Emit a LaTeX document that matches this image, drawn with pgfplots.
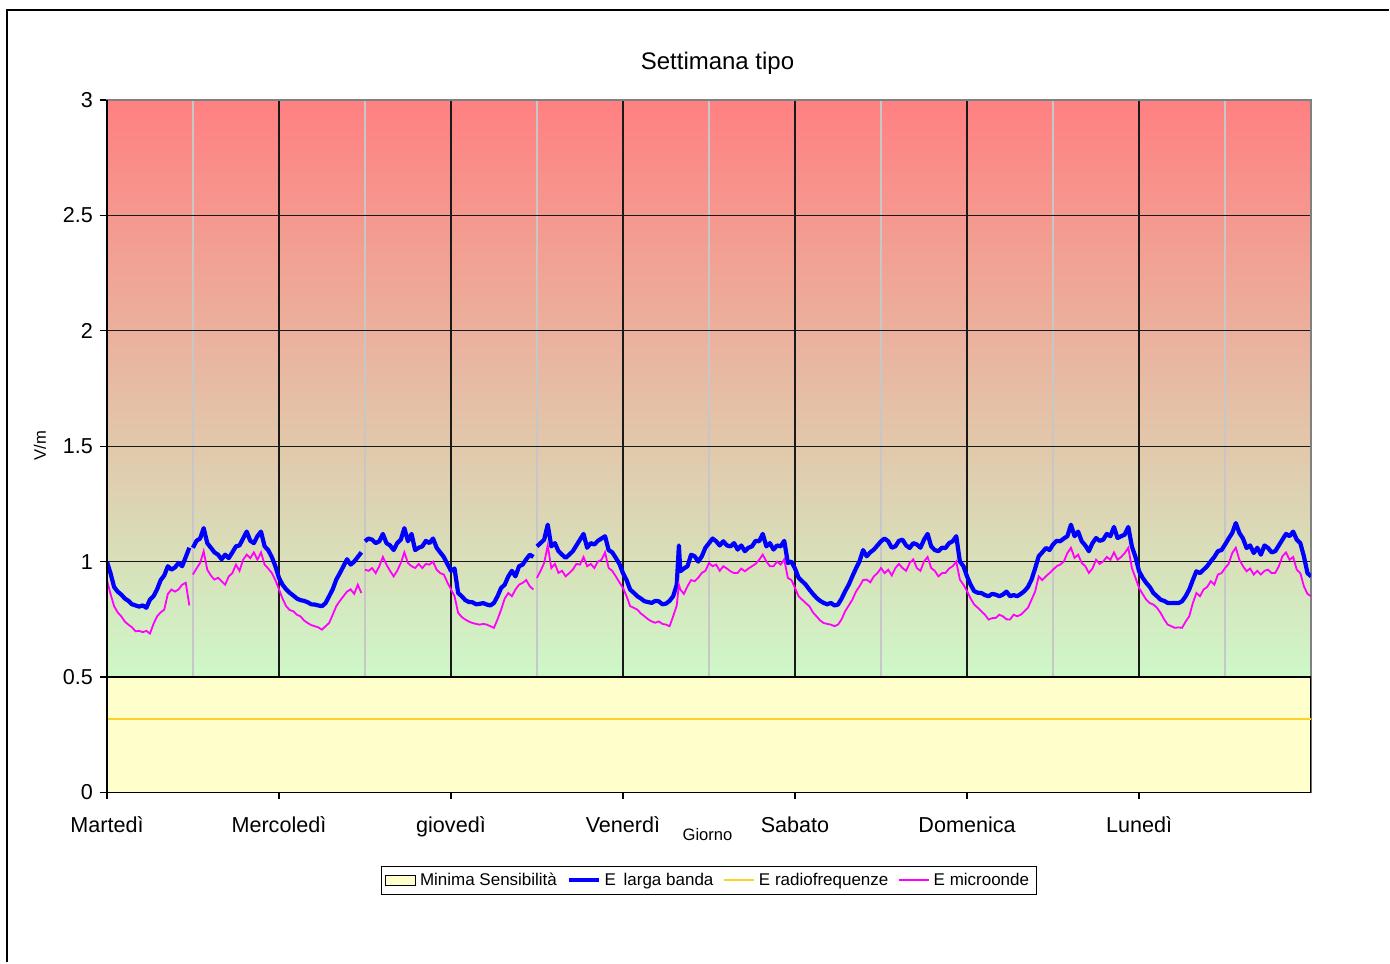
\documentclass[border=0pt]{standalone}
\usepackage{pgfplots}
\pgfplotsset{compat=1.18}
\usepackage{pgfplotstable}
\usepackage{fontspec}
\setmainfont{Liberation Sans}
\definecolor{topc}{RGB}{255,128,128}
\definecolor{botc}{RGB}{206,248,200}
\definecolor{yell}{RGB}{255,255,204}
\definecolor{gold}{RGB}{252,210,40}
\definecolor{mag}{RGB}{255,0,255}
\definecolor{blu}{RGB}{0,0,255}
\pgfdeclareverticalshading{bgsh}{100bp}{color(0bp)=(botc); color(33.333bp)=(botc); color(75bp)=(topc); color(100bp)=(topc)}
\pgfplotstableread{
h b m
0 1.00 0.92
0.5 0.95 0.86
1 0.89 0.807
1.5 0.87 0.78
2 0.857 0.763
2.5 0.84 0.74
3 0.83 0.727
3.5 0.815 0.715
4 0.81 0.698
4.5 0.805 0.70
5 0.81 0.694
5.5 0.80 0.70
6 0.835 0.688
6.5 0.85 0.73
7 0.88 0.763
7.5 0.92 0.78
8 0.94 0.792
8.5 0.98 0.86
9 0.965 0.879
9.5 0.975 0.87
10 0.994 0.88
10.5 0.98 0.90
11 1.02 0.908
11.5 1.06 0.81
11.8 nan nan
12 1.06 0.944
12.5 1.09 0.97
13 1.10 0.994
13.5 1.145 1.045
14 1.08 0.965
14.5 1.06 0.94
15 1.04 0.922
15.5 1.03 0.93
16 1.01 0.915
16.5 1.03 0.90
17 1.015 0.936
17.5 1.04 0.95
18 1.066 0.987
18.5 1.07 0.96
19 1.10 1.008
19.5 1.13 1.03
20 1.09 1.015
20.5 1.08 1.04
21 1.11 1.008
21.5 1.13 1.04
22 1.066 0.987
22.5 1.05 0.97
23 1.02 0.951
23.5 0.98 0.92
24 0.93 0.88
24.5 0.90 0.84
25 0.88 0.807
25.5 0.865 0.79
26 0.853 0.785
26.5 0.84 0.77
27 0.833 0.763
27.5 0.83 0.745
28 0.824 0.734
28.5 0.815 0.725
29 0.814 0.72
29.5 0.81 0.715
30 0.807 0.705
30.5 0.82 0.72
31 0.85 0.734
31.5 0.88 0.77
32 0.922 0.807
32.5 0.95 0.83
33 0.98 0.85
33.5 1.01 0.87
34 0.987 0.88
34.5 1.00 0.86
35 1.02 0.90
35.5 1.04 0.864
35.8 nan nan
36 1.088 0.965
36.5 1.10 0.96
37 1.095 0.972
37.5 1.08 0.95
38 1.088 0.98
38.5 1.12 1.02
39 1.08 0.987
39.5 1.07 0.96
40 1.05 0.936
40.5 1.08 0.96
41 1.095 0.994
41.5 1.145 1.04
42 1.088 0.994
42.5 1.12 0.98
43 1.05 0.972
43.5 1.06 0.99
44 1.066 0.972
44.5 1.09 0.99
45 1.08 0.987
45.5 1.10 1.00
46 1.06 0.965
46.5 1.04 0.95
47 1.02 0.944
47.5 0.99 0.91
48 0.96 0.88
48.5 0.97 0.85
49 0.864 0.778
49.5 0.85 0.76
50 0.833 0.749
50.5 0.825 0.74
51 0.824 0.734
51.5 0.815 0.73
52 0.817 0.727
52.5 0.82 0.73
53 0.814 0.727
53.5 0.81 0.72
54 0.821 0.713
54.5 0.85 0.75
55 0.886 0.792
55.5 0.90 0.84
56 0.936 0.864
56.5 0.96 0.85
57 0.936 0.879
57.5 0.98 0.90
58 0.987 0.908
58.5 1.01 0.92
59 1.03 0.893
59.5 1.02 0.879
59.8 nan nan
60 1.066 0.929
60.5 1.08 0.96
61 1.095 0.994
61.5 1.16 1.07
62 1.066 0.972
62.5 1.08 0.99
63 1.045 0.951
63.5 1.03 0.96
64 1.016 0.936
64.5 1.03 0.95
65 1.045 0.965
65.5 1.07 0.99
66 1.095 0.987
66.5 1.12 1.02
67 1.06 0.98
67.5 1.08 0.99
68 1.074 0.972
68.5 1.09 1.00
69 1.10 1.008
69.5 1.11 1.04
70 1.05 0.972
70.5 1.04 0.96
71 1.016 0.936
71.5 0.99 0.91
72 0.95 0.886
72.5 0.92 0.85
73 0.879 0.807
73.5 0.865 0.80
74 0.85 0.792
74.5 0.84 0.775
75 0.828 0.763
75.5 0.825 0.75
76 0.821 0.741
76.5 0.83 0.735
77 0.828 0.741
77.5 0.815 0.73
78 0.818 0.727
78.5 0.83 0.72
79 0.85 0.763
79.5 0.90 0.81
79.8 1.07 0.90
80 0.958 0.879
80.5 0.97 0.86
81 0.98 0.893
81.5 1.03 0.92
82 1.023 0.915
82.5 1.00 0.93
83 1.023 0.951
83.5 1.06 0.96
84 1.08 0.994
84.5 1.10 0.98
85 1.088 0.987
85.5 1.07 0.96
86 1.088 0.98
86.5 1.07 0.97
87 1.066 0.958
87.5 1.08 0.95
88 1.052 0.951
88.5 1.07 0.97
89 1.045 0.958
89.5 1.06 0.97
90 1.066 0.98
90.5 1.09 0.99
91 1.088 1.008
91.5 1.12 1.03
92 1.066 1.001
92.5 1.08 0.98
93 1.052 0.98
93.5 1.07 1.00
94 1.066 0.987
94.5 1.09 1.01
95 0.994 0.929
95.5 1.00 0.92
96 0.97 0.886
96.5 0.93 0.85
97 0.915 0.835
97.5 0.90 0.82
98 0.879 0.807
98.5 0.86 0.78
99 0.843 0.763
99.5 0.83 0.745
100 0.821 0.734
100.5 0.815 0.73
101 0.821 0.727
101.5 0.81 0.72
102 0.814 0.727
102.5 0.84 0.75
103 0.872 0.785
103.5 0.90 0.81
104 0.936 0.835
104.5 0.97 0.87
105 1.001 0.893
105.5 1.05 0.92
106 1.023 0.922
106.5 1.04 0.91
107 1.052 0.936
107.5 1.07 0.95
108 1.088 0.972
108.5 1.10 0.95
109 1.088 0.965
109.5 1.06 0.94
110 1.066 0.972
110.5 1.09 0.99
111 1.095 0.972
111.5 1.07 0.96
112 1.059 0.994
112.5 1.08 1.01
113 1.074 0.972
113.5 1.06 0.96
114 1.095 1.001
114.5 1.12 1.02
115 1.066 0.972
115.5 1.05 0.96
116 1.045 0.936
116.5 1.06 0.95
117 1.059 0.951
117.5 1.08 0.97
118 1.088 0.98
118.5 1.11 1.00
119 1.001 0.922
119.5 0.98 0.90
120 0.936 0.872
120.5 0.90 0.84
121 0.872 0.814
121.5 0.865 0.80
122 0.864 0.785
122.5 0.855 0.77
123 0.85 0.749
123.5 0.86 0.755
124 0.857 0.756
124.5 0.85 0.77
125 0.857 0.763
125.5 0.87 0.75
126 0.85 0.749
126.5 0.855 0.77
127 0.85 0.763
127.5 0.86 0.77
128 0.872 0.785
128.5 0.89 0.80
129 0.922 0.835
129.5 0.97 0.87
130 1.023 0.936
130.5 1.04 0.92
131 1.059 0.936
131.5 1.05 0.95
132 1.074 0.965
132.5 1.09 0.98
133 1.088 0.987
133.5 1.10 1.00
134 1.11 1.037
134.5 1.16 1.06
135 1.11 1.016
135.5 1.13 1.03
136 1.088 0.994
136.5 1.07 0.98
137 1.045 0.951
137.5 1.08 0.97
138 1.102 1.008
138.5 1.09 0.99
139 1.095 1.001
139.5 1.12 1.02
140 1.11 1.008
140.5 1.15 1.04
141 1.102 1.008
141.5 1.11 1.02
142 1.117 1.037
142.5 1.15 1.06
143 1.066 0.972
143.5 1.02 0.93
144 0.958 0.886
144.5 0.93 0.86
145 0.908 0.835
145.5 0.89 0.82
146 0.864 0.814
146.5 0.85 0.80
147 0.835 0.778
147.5 0.83 0.75
148 0.821 0.727
148.5 0.82 0.72
149 0.821 0.713
149.5 0.82 0.715
150 0.828 0.713
150.5 0.85 0.74
151 0.879 0.763
151.5 0.92 0.82
152 0.958 0.864
152.5 0.95 0.85
153 0.965 0.879
153.5 0.98 0.89
154 1.001 0.915
154.5 1.02 0.90
155 1.045 0.944
155.5 1.05 0.95
156 1.074 0.972
156.5 1.10 0.99
157 1.124 1.037
157.5 1.167 1.06
158 1.124 1.008
158.5 1.10 0.98
159 1.059 0.958
159.5 1.07 0.97
160 1.037 0.944
160.5 1.06 0.96
161 1.03 0.944
161.5 1.07 0.96
162 1.059 0.965
162.5 1.04 0.95
163 1.045 0.951
163.5 1.07 0.98
164 1.095 1.023
164.5 1.12 1.04
165 1.11 1.008
165.5 1.13 1.02
166 1.095 0.965
166.5 1.08 0.95
167 1.023 0.893
167.5 0.95 0.86
168 0.936 0.85
}\datatab
\begin{document}
\begin{tikzpicture}
\fill[white] (0,0) rectangle (695pt,481.5pt);
\draw[line width=1pt,black] (3.5pt,0pt) -- (3.5pt,476.5pt) -- (695pt,476.5pt);
\node[font=\fontsize{12}{14}\selectfont] at (359pt,450pt) {Settimana tipo};
\node[font=\fontsize{8.3}{10}\selectfont] at (354pt,64pt) {Giorno};
\node[font=\fontsize{8.3}{10}\selectfont,rotate=90] at (20pt,258.5pt) {V/m};
\begin{axis}[
  at={(53.5pt,85pt)}, anchor=south west,
  width=602.5pt, height=346.5pt, scale only axis,
  xmin=0, xmax=168, ymin=0, ymax=3,
  axis background/.style={shading=bgsh},
  unbounded coords=jump,
  xtick={0,24,...,144},
  xticklabels={Martedì,Mercoledì,giovedì,Venerdì,Sabato,Domenica,Lunedì},
  minor xtick={12,36,...,156},
  ytick={0,0.5,...,3},
  yticklabels={0,0.5,1,1.5,2,2.5,3},
  xtick pos=left, ytick pos=left,
  xmajorgrids, ymajorgrids, xminorgrids,
  major grid style={black!90, line width=0.65pt},
  minor grid style={black!22, line width=0.7pt},
  minor tick length=0pt,
  tick align=outside, major tick length=3.5pt,
  tick style={black, line width=0.6pt},
  axis line style={gray, line width=0.8pt},
  xticklabel style={font=\fontsize{10.8}{12}\selectfont, yshift=-5pt},
  yticklabel style={font=\fontsize{10.8}{12}\selectfont},
  legend columns=4,
  legend style={at={(rel axis cs:0.5,-0.127)}, anchor=center, draw=black, line width=0.5pt,
    font=\fontsize{8.5}{10}\selectfont, inner xsep=1.5pt, inner ysep=1pt,
    /tikz/every even column/.append style={column sep=2.8pt}},
  legend image code/.code={\draw[#1] (0pt,0pt) -- (15pt,0pt);},
]
\addplot[fill=yell, draw=black, line width=0.6pt,
  legend image code/.code={\draw[fill=yell,draw=black,line width=0.6pt] (0pt,-2.5pt) rectangle (15pt,2.5pt);}]
  coordinates {(0,0.5) (168,0.5)} \closedcycle;
\addlegendentry{Minima Sensibilità}
\addplot[blu, line width=2.1pt, line join=round] table[x=h, y=b] {\datatab};
\addlegendentry{E\hspace{0.45em}larga banda}
\addplot[gold, line width=1pt] coordinates {(0,0.32) (168,0.32)};
\addlegendentry{E radiofrequenze}
\addplot[mag, line width=0.9pt] table[x=h, y=m] {\datatab};
\addlegendentry{E microonde}
\end{axis}
\draw[black, line width=0.8pt] (53.5pt,431.5pt) -- (53.5pt,85pt) -- (656pt,85pt);
\end{tikzpicture}
\end{document}
